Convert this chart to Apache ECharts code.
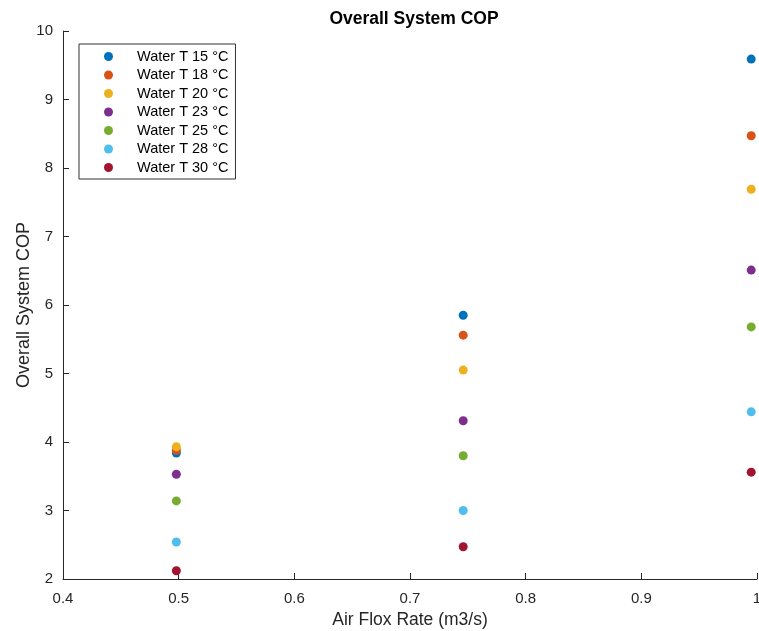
<!DOCTYPE html>
<html><head><meta charset="utf-8">
<script src="https://cdn.jsdelivr.net/npm/echarts@6/dist/echarts.min.js"></script>
<style>html,body{margin:0;padding:0;background:#fff}#c{width:759px;height:631px}</style>
</head><body><div id="c"></div>
<script>
const seriesNames = ["Water T 15 °C","Water T 18 °C","Water T 20 °C","Water T 23 °C","Water T 25 °C","Water T 28 °C","Water T 30 °C"];
const colors = ["#0072BD","#D95319","#EDB120","#7E2F8E","#77AC30","#4DBEEE","#A2142F"];
const airFlow = [0.498, 0.746, 0.995];
const cop15 = [3.84, 5.85, 9.59];
const cop18 = [3.88, 5.56, 8.47];
const cop20 = [3.93, 5.05, 7.69];
const cop23 = [3.53, 4.31, 6.51];
const cop25 = [3.14, 3.80, 5.68];
const cop28 = [2.54, 3.00, 4.44];
const cop30 = [2.12, 2.47, 3.56];
const allCop = [cop15, cop18, cop20, cop23, cop25, cop28, cop30];

const chart = echarts.init(document.getElementById('c'));
const axisCol = '#262626';
const ff = 'Liberation Sans';
chart.setOption({
  animation: false,
  title: {text: 'Overall System COP', left: 409, textAlign: 'center', top: 5,
    textStyle: {fontFamily: ff, fontSize: 17.5, fontWeight: 'bold', color: '#000'}},
  grid: {left: 63, right: 2, top: 31, bottom: 52, containLabel: false, outerBoundsMode: 'none'},
  legend: {
    orient: 'vertical', left: 79, top: 44,
    data: seriesNames,
    icon: 'circle', itemWidth: 9, itemHeight: 9, itemGap: 3.5,
    borderColor: '#333', borderWidth: 1, backgroundColor: '#fff',
    padding: [5, 7, 4, 25],
    textStyle: {fontFamily: ff, fontSize: 14.5, color: '#000', padding: [0, 0, 0, 19]}
  },
  xAxis: {
    type: 'value', min: 0.4, max: 1, interval: 0.1,
    name: 'Air Flox Rate (m3/s)', nameLocation: 'middle', nameGap: 32,
    nameTextStyle: {fontFamily: ff, fontSize: 17.5, color: axisCol},
    axisLine: {lineStyle: {color: axisCol}},
    axisTick: {inside: true, length: 6, lineStyle: {color: axisCol}},
    axisLabel: {fontFamily: ff, fontSize: 15, color: axisCol, margin: 12,
      formatter: v => String(+v.toFixed(1))},
    splitLine: {show: false}
  },
  yAxis: {
    type: 'value', min: 2, max: 10, interval: 1,
    name: 'Overall System COP', nameLocation: 'middle', nameGap: 30, nameMoveOverlap: false,
    nameTextStyle: {fontFamily: ff, fontSize: 18, color: axisCol},
    axisLine: {show: true, lineStyle: {color: axisCol}},
    axisTick: {show: true, inside: true, length: 6, lineStyle: {color: axisCol}},
    axisLabel: {fontFamily: ff, fontSize: 15, color: axisCol, margin: 10},
    splitLine: {show: false}
  },
  series: seriesNames.map((n, i) => ({
    name: n, type: 'scatter', symbol: 'circle', symbolSize: 9,
    itemStyle: {color: colors[i], opacity: 1},
    data: airFlow.map((x, j) => [x, allCop[i][j]])
  }))
});
</script></body></html>
